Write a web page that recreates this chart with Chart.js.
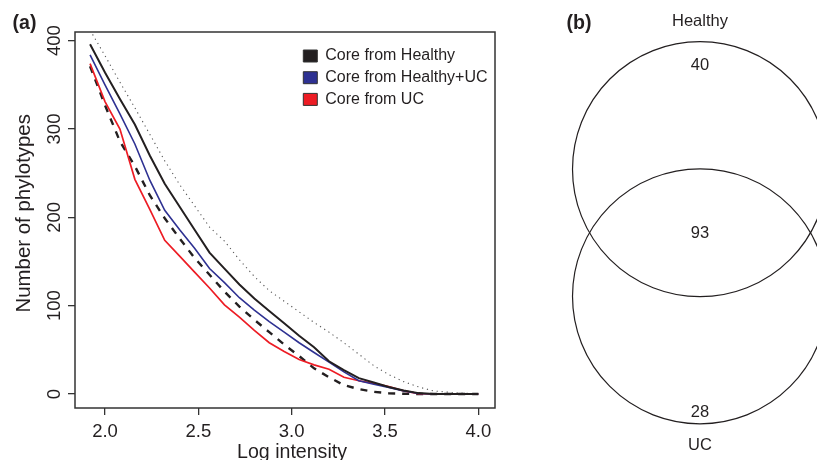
<!DOCTYPE html>
<html><head><meta charset="utf-8">
<script src="https://cdn.jsdelivr.net/npm/chart.js@4.4.0/dist/chart.umd.min.js"></script>
<style>
html,body{margin:0;padding:0;background:#fff;overflow:hidden}
#wrap{position:relative;width:817px;height:460px;background:#fff}
#a{position:absolute;left:0;top:0}
#b{position:absolute;left:550px;top:0}
</style></head><body>
<div id="wrap"><canvas id="a" width="550" height="460"></canvas><canvas id="b" width="267" height="460"></canvas></div>
<script>
// ---- data ----
const logIntensity   = [1.92, 2.00, 2.08, 2.16, 2.24, 2.32, 2.40, 2.48, 2.56, 2.64, 2.72, 2.80, 2.88, 2.96, 3.04, 3.12, 3.20, 3.28, 3.36, 3.44, 3.52, 3.60, 3.68, 3.76, 3.84, 3.92, 4.00];
const coreHealthy    = [396, 364, 334, 305, 270, 238, 212, 186, 160, 142, 124, 108, 94, 80, 66, 53, 37, 27, 18, 13, 8, 4, 1, 0, 0, 0, 0];
const coreHealthyUC  = [384, 350, 317, 283, 242, 208, 186, 165, 142, 126, 109, 95, 82, 70, 58, 47, 36, 25, 15, 11, 7.5, 3.5, 0.5, 0, 0, 0, 0];
const coreUC         = [374, 331, 300, 243, 209, 174, 156, 138, 120, 101, 87, 72, 58, 48, 39, 33, 28, 19, 15, 12, 8.5, 3.5, 0.5, 0, 0, 0, 0];
const dashedCurve    = [371, 327, 286, 258, 225, 199, 176, 154, 135, 116, 99, 84, 70, 56, 43, 29, 19, 10, 5.5, 2.5, 0.8, 0.3, 0, 0, 0, 0, 0];
const dottedCurve    = [412, 383, 353, 324, 294, 264, 237, 213, 189, 173, 152, 133, 117, 105, 93, 81, 70, 58, 45, 32, 22, 14, 8, 3.5, 2, 0.8, 0.5];
const xTicks = [2.0, 2.5, 3.0, 3.5, 4.0];
const yTicks = [0, 100, 200, 300, 400];
const seriesLabels = ['Core from Healthy', 'Core from Healthy+UC', 'Core from UC'];
const vennSets = ['Healthy', 'UC'];
const vennCounts = [40, 93, 28]; // Healthy only, shared, UC only

// ---- style / layout ----
const fontFam = "'Liberation Sans', Arial, Helvetica, sans-serif";
const ink = '#231f20';
const colBlack = '#231f20', colBlue = '#2e3192', colRed = '#ed1c24';
Chart.defaults.font.family = fontFam;
Chart.defaults.color = ink;

const pts = ys => logIntensity.map((x, i) => ({x, y: ys[i]}));

const frameA = {
  id: 'frameA',
  afterLayout(chart) {
    const lg = chart.legend, ca = chart.chartArea;
    if (!lg) return;
    const w = lg.width, h = lg.height;
    lg.left = ca.left + 222.6; lg.top = ca.top + 10.3;
    lg.right = lg.left + w; lg.bottom = lg.top + h;
  },
  beforeDatasetsDraw(chart) {
    const {ctx, chartArea: ca} = chart;
    ctx.save();
    ctx.strokeStyle = '#333'; ctx.lineWidth = 1.5;
    ctx.strokeRect(ca.left, ca.top, ca.right - ca.left, ca.bottom - ca.top);
    ctx.restore();
  },
  afterDraw(chart) {
    const {ctx, chartArea: ca} = chart;
    ctx.save();
    ctx.fillStyle = ink;
    ctx.textBaseline = 'alphabetic';
    ctx.font = 'bold 19.6px ' + fontFam;
    ctx.textAlign = 'left';
    ctx.fillText('(a)', 12.5, 29.3);
    ctx.font = '19.6px ' + fontFam;
    ctx.textAlign = 'center';
    ctx.fillText('Log intensity', (ca.left + ca.right) / 2 + 7, 457.7);
    ctx.font = '20.4px ' + fontFam;
    ctx.translate(29.5, (ca.top + ca.bottom) / 2 - 6.7);
    ctx.rotate(-Math.PI / 2);
    ctx.fillText('Number of phylotypes', 0, 0);
    ctx.restore();
  }
};

new Chart(document.getElementById('a'), {
  type: 'line',
  data: {
    datasets: [
      {label: seriesLabels[0], data: pts(coreHealthy), borderColor: colBlack, backgroundColor: colBlack, borderWidth: 2},
      {label: seriesLabels[1], data: pts(coreHealthyUC), borderColor: colBlue, backgroundColor: colBlue, borderWidth: 1.6},
      {label: seriesLabels[2], data: pts(coreUC), borderColor: colRed, backgroundColor: colRed, borderWidth: 1.7},
      {label: 'dashed', data: pts(dashedCurve), borderColor: colBlack, borderWidth: 2.4, borderDash: [7, 7]},
      {label: 'dotted', data: pts(dottedCurve), borderColor: '#555', borderWidth: 1.1, borderDash: [1.2, 3.8]}
    ]
  },
  options: {
    responsive: false,
    animation: false,
    events: [],
    layout: {padding: {left: 0, top: 32, right: 55, bottom: 0}},
    elements: {point: {radius: 0, hoverRadius: 0}, line: {tension: 0, fill: false}},
    scales: {
      x: {
        type: 'linear', min: 1.8393, max: 4.0893,
        afterBuildTicks: s => { s.ticks = xTicks.map(v => ({value: v})); },
        afterFit: s => { s.height = 52; },
        border: {display: false},
        grid: {drawOnChartArea: false, drawTicks: true, tickLength: 7, color: '#333', lineWidth: 1.3},
        ticks: {padding: 6, color: ink, font: {size: 18.5}, maxRotation: 0, autoSkip: false,
                callback: v => Number(v).toFixed(1)}
      },
      y: {
        type: 'linear', min: -15.85, max: 409.8,
        afterBuildTicks: s => { s.ticks = yTicks.map(v => ({value: v})); },
        afterFit: s => { s.width = 75; },
        border: {display: false},
        grid: {drawOnChartArea: false, drawTicks: true, tickLength: 7, color: '#333', lineWidth: 1.3},
        ticks: {padding: -2.5, color: ink, font: {size: 18.5}, minRotation: 90, maxRotation: 90,
                crossAlign: 'center', autoSkip: false, callback: v => String(v)}
      }
    },
    plugins: {
      tooltip: {enabled: false},
      legend: {
        display: true, position: 'chartArea', align: 'start', onClick: null,
        labels: {
          boxWidth: 14, boxHeight: 12, padding: 5.7, color: ink,
          font: {size: 16},
          generateLabels(chart) {
            return chart.data.datasets.slice(0, seriesLabels.length).map((ds, i) => ({
              text: ds.label, fillStyle: ds.borderColor, strokeStyle: '#333', lineWidth: 1,
              lineDash: [], hidden: false, datasetIndex: i, fontColor: ink
            }));
          }
        }
      }
    }
  },
  plugins: [frameA]
});

// ---- Venn panel (b) ----
const vennRadius = 1;               // circle radius in venn units
const vennHalfGap = 0.4984;          // centre offset from middle, venn units
const vennLabelY = {setTop: 1.623, onlyTop: 1.2765, shared: -0.0435, onlyBottom: -1.4427, setBottom: -1.704};

const frameB = {
  id: 'frameB',
  afterDraw(chart) {
    const {ctx, scales: {x, y}} = chart;
    ctx.save();
    ctx.fillStyle = ink;
    ctx.textBaseline = 'alphabetic';
    ctx.font = 'bold 19.6px ' + fontFam;
    ctx.textAlign = 'left';
    ctx.fillText('(b)', 16.5, 29.3);
    ctx.font = '16.5px ' + fontFam;
    ctx.textAlign = 'center';
    const cx = x.getPixelForValue(0);
    ctx.fillText(vennSets[0], cx, y.getPixelForValue(vennLabelY.setTop));
    ctx.fillText(String(vennCounts[0]), cx, y.getPixelForValue(vennLabelY.onlyTop));
    ctx.fillText(String(vennCounts[1]), cx, y.getPixelForValue(vennLabelY.shared));
    ctx.fillText(String(vennCounts[2]), cx, y.getPixelForValue(vennLabelY.onlyBottom));
    ctx.fillText(vennSets[1], cx, y.getPixelForValue(vennLabelY.setBottom));
    ctx.restore();
  }
};

const venn = new Chart(document.getElementById('b'), {
  type: 'scatter',
  data: {
    datasets: [{
      label: 'venn',
      data: vennSets.map((s, i) => ({x: 0, y: i === 0 ? vennHalfGap : -vennHalfGap})),
      showLine: false,
      pointStyle: 'circle',
      pointBackgroundColor: 'rgba(0,0,0,0)', pointBorderColor: ink, pointBorderWidth: 1.2,
      pointRadius: 0, pointHoverRadius: 0, clip: false
    }]
  },
  options: {
    responsive: false, animation: false, events: [],
    layout: {padding: 0, autoPadding: false},
    scales: {
      x: {type: 'linear', display: false, min: -1.1765, max: 0.9176},
      y: {type: 'linear', display: false, min: -1.7824, max: 1.8255}
    },
    plugins: {legend: {display: false}, tooltip: {enabled: false}}
  },
  plugins: [frameB]
});
// circle radius from the venn chart's own x scale (venn units -> pixels)
const vx = venn.scales.x;
const rPx = vx.getPixelForValue(vennRadius) - vx.getPixelForValue(0);
venn.data.datasets[0].pointRadius = rPx;
venn.update();
</script>
</body></html>
